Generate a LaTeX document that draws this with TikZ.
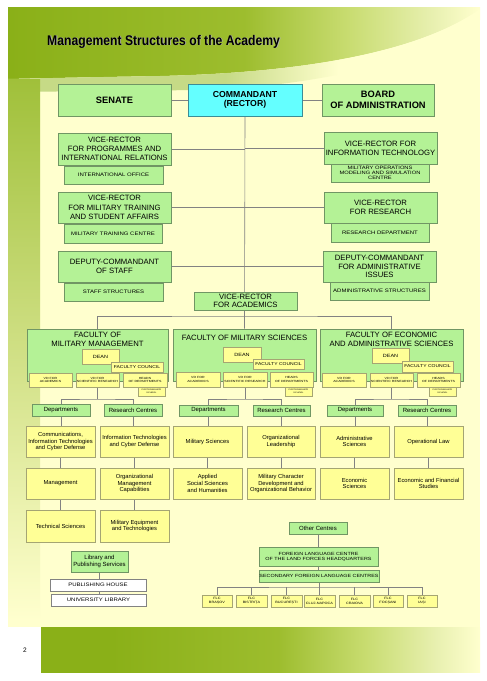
\documentclass[tikz,border=0pt]{standalone}
\usepackage{fontspec}
\usepackage{graphicx}
\setmainfont{Liberation Sans}
\newfontfamily\widef[FakeStretch=1.2]{Liberation Sans}
\usetikzlibrary{shadows}
\definecolor{paleY}{RGB}{255,255,206}
\definecolor{olive}{RGB}{138,176,24}
\definecolor{oliveB}{RGB}{157,189,46}
\definecolor{oliveC}{RGB}{200,220,112}
\definecolor{oliveD}{RGB}{232,240,176}
\definecolor{bandC}{RGB}{198,218,134}
\definecolor{stripC}{RGB}{160,192,58}
\definecolor{gfill}{RGB}{180,242,150}
\definecolor{gdraw}{RGB}{112,150,100}
\definecolor{yfill}{RGB}{255,255,150}
\definecolor{ydraw}{RGB}{165,165,115}
\definecolor{cfill}{RGB}{100,255,255}
\definecolor{cdraw}{RGB}{60,140,150}
\definecolor{lgray}{RGB}{130,130,130}
\pgfdeclarelayer{pagebg}
\pgfdeclarelayer{lines}
\pgfsetlayers{pagebg,lines,main}
\pgfdeclarehorizontalshading{hdrsh}{100bp}{color(0bp)=(olive); color(25bp)=(olive); color(50bp)=(oliveB); color(61bp)=(oliveC); color(70bp)=(oliveD); color(75bp)=(paleY); color(100bp)=(paleY)}
\pgfdeclarehorizontalshading{bandsh}{100bp}{color(0bp)=(bandC); color(25bp)=(bandC); color(48bp)=(bandC); color(60bp)=(paleY); color(100bp)=(paleY)}
\pgfdeclarehorizontalshading{botsh}{100bp}{color(0bp)=(olive); color(25bp)=(olive); color(33bp)=(olive); color(52bp)=(oliveB); color(62bp)=(oliveC); color(70bp)=(oliveD); color(75bp)=(paleY); color(100bp)=(paleY)}
\newcommand\bx[7]{%
  \pgfmathsetmacro\bxcx{(#3+#5)/2}\pgfmathsetmacro\bxcy{(#4+#6)/2}%
  \pgfmathsetmacro\bxw{#5-#3}\pgfmathsetmacro\bxh{#6-#4}%
  \node[#1,minimum width=\bxw pt,minimum height=\bxh pt] (#2) at (\bxcx,\bxcy) {#7};}
\begin{document}
\begin{tikzpicture}[x=1pt,y=-1pt,
  box/.style={draw,line width=0.6pt,inner sep=0pt,align=center,text=black},
  gb/.style={box,fill=gfill,draw=gdraw},
  yb/.style={box,fill=yfill,draw=ydraw},
  wb/.style={box,fill=white,draw=lgray},
  cb/.style={box,fill=cfill,draw=cdraw,drop shadow={shadow xshift=1.2pt,shadow yshift=-1.2pt,opacity=0.35}},
  ln/.style={draw=lgray,line width=0.6pt},
  fbig/.style={font=\fontsize{9.3}{10.7}\selectfont\bfseries},
  fcom/.style={font=\fontsize{8.7}{9.3}\selectfont\bfseries},
  fvr/.style={font=\fontsize{7.7}{9.2}\selectfont},
  fvrb/.style={font=\fontsize{7.7}{8.5}\selectfont},
  fsm/.style={font=\widef\fontsize{5}{5.6}\selectfont},
  fsm3/.style={font=\widef\fontsize{4.8}{5.3}\selectfont},
  ffac/.style={font=\fontsize{7.7}{9}\selectfont},
  fdean/.style={font=\widef\fontsize{4.6}{5}\selectfont},
  fcou/.style={font=\widef\fontsize{4.2}{5}\selectfont},
  fvd/.style={font=\widef\fontsize{3}{3.6}\selectfont},
  fpg/.style={font=\widef\fontsize{2}{2.4}\selectfont},
  fdep/.style={font=\fontsize{6}{7}\selectfont},
  flow/.style={font=\fontsize{5.8}{6.7}\selectfont},
  fhq/.style={font=\widef\fontsize{4.5}{5.2}\selectfont},
  fflc/.style={font=\widef\fontsize{3.2}{3.8}\selectfont}]
\useasboundingbox (0,0) rectangle (487,681);
\begin{pgfonlayer}{pagebg}
  \fill[white] (0,0) rectangle (487,681);
  \fill[paleY] (8,7) rectangle (480,627);
  \shade[shading=hdrsh] (8,7) -- (480,7) -- (480,9) .. controls (430,45) and (330,72) .. (160,76) .. controls (100,77) and (50,78) .. (8,79) -- cycle;
  \shade[shading=bandsh] (8,79) .. controls (50,78) and (100,77) .. (160,76) .. controls (330,72) and (430,45) .. (480,9) -- (480,20) .. controls (440,55) and (330,86) .. (200,90) -- (8,92) -- cycle;
  \shade[top color=stripC, bottom color=paleY] (8,79) rectangle (40,620);
  \shade[shading=botsh] (41,627) rectangle (480,672);
\end{pgfonlayer}
\node[anchor=base west,text=black!30,inner sep=0pt] (titlesh) at (47.8,45.8) {\fontsize{14}{16}\selectfont\bfseries\scalebox{0.87}[1]{Management Structures of the Academy}};
\node[anchor=base west,text=black,inner sep=0pt] (title) at (47,45) {\fontsize{14}{16}\selectfont\bfseries\scalebox{0.87}[1]{Management Structures of the Academy}};
\node (pgno) at (25,650) {\fontsize{6.5}{7}\selectfont 2};
% top row
\bx{gb,fbig}{senate}{58}{84}{171}{116}{SENATE}
\bx{cb,fcom}{comm}{188}{84}{302}{116}{COMMANDANT\\(RECTOR)}
\bx{gb,fbig}{board}{322}{84}{434}{116}{BOARD\\OF ADMINISTRATION}
% vice-rectors
\bx{gb,fvr}{vrp}{58}{133}{171}{165}{VICE-RECTOR\\FOR PROGRAMMES AND\\INTERNATIONAL RELATIONS}
\bx{gb,fsm}{io}{64}{166}{163}{184}{INTERNATIONAL OFFICE}
\bx{gb,fvr}{vrit}{324}{132}{437}{164}{VICE-RECTOR FOR\\INFORMATION TECHNOLOGY}
\bx{gb,fsm3}{mom}{331}{164}{429}{182}{MILITARY OPERATIONS\\MODELING AND SIMULATION\\CENTRE}
\bx{gb,fvr}{vrmt}{58}{192}{171}{223}{VICE-RECTOR\\FOR MILITARY TRAINING\\AND STUDENT AFFAIRS}
\bx{gb,fsm}{mtc}{64}{224}{162}{243}{MILITARY TRAINING CENTRE}
\bx{gb,fvr}{vrr}{324}{192}{437}{223}{VICE-RECTOR\\FOR RESEARCH}
\bx{gb,fsm}{rd}{331}{223}{429}{242}{RESEARCH DEPARTMENT}
\bx{gb,fvr}{dcs}{58}{251}{171}{282}{DEPUTY-COMMANDANT\\OF STAFF}
\bx{gb,fsm}{ss}{64}{283}{163}{301}{STAFF STRUCTURES}
\bx{gb,fvrb}{dca}{323}{251}{436}{282}{DEPUTY-COMMANDANT\\FOR ADMINISTRATIVE\\ISSUES}
\bx{gb,fsm}{as}{330}{282}{429}{300}{ADMINISTRATIVE STRUCTURES}
\bx{gb,fvrb}{vra}{194}{292}{297}{310}{VICE-RECTOR\\FOR ACADEMICS}
% faculty 1
\bx{gb}{fmm}{27}{329}{168}{381}{}
\node[ffac,align=center,inner sep=0pt] (fmmt) at (97.5,339.5) {FACULTY OF\\MILITARY MANAGEMENT};
\bx{yb,fdean}{dean1}{82}{349}{119}{364}{DEAN}
\bx{yb,fcou}{fc1}{111}{362}{163}{372}{FACULTY COUNCIL}
\bx{yb,fvd}{vda1}{29}{373}{72}{387}{VD FOR\\ACADEMICS}
\bx{yb,fvd}{vdr1}{76}{373}{119}{387}{VD FOR\\SCIENTIFIC RESEARCH}
\bx{yb,fvd}{hd1}{123}{373}{167}{387}{HEADS\\OF DEPARTMENTS}
\bx{yb,fpg}{pg1}{138}{387}{165}{396}{POSTGRADUATE\\SCHOOL}
\bx{gb,fdep}{dep1}{32}{404}{90}{416}{Departments}
\bx{gb,fdep}{rc1}{104}{404}{162}{416}{Research Centres}
\bx{yb,flow}{d1a}{26}{426}{95}{457}{Communications,\\Information Technologies\\and Cyber Defense}
\bx{yb,flow}{d1b}{26}{468}{95}{499}{Management}
\bx{yb,flow}{d1c}{26}{510}{95}{542}{Technical Sciences}
\bx{yb,flow}{r1a}{100}{426}{169}{457}{Information Technologies\\and Cyber Defense}
\bx{yb,flow}{r1b}{100}{468}{169}{499}{Organizational\\Management\\Capabilities}
\bx{yb,flow}{r1c}{100}{510}{169}{542}{Military Equipment\\and Technologies}
% faculty 2
\bx{gb}{fms}{173}{329}{316}{381}{}
\node[ffac,align=center,inner sep=0pt] (fmst) at (244.5,338) {FACULTY OF MILITARY SCIENCES};
\bx{yb,fdean}{dean2}{223}{347}{261}{362}{DEAN}
\bx{yb,fcou}{fc2}{253}{359}{304}{369}{FACULTY COUNCIL}
\bx{yb,fvd}{vda2}{176}{372}{220}{387}{VD FOR\\ACADEMICS}
\bx{yb,fvd}{vdr2}{223}{372}{267}{387}{VD FOR\\SCIENTIFIC RESEARCH}
\bx{yb,fvd}{hd2}{270}{372}{313}{387}{HEADS\\OF DEPARTMENTS}
\bx{yb,fpg}{pg2}{285}{387}{312}{396}{POSTGRADUATE\\SCHOOL}
\bx{gb,fdep}{dep2}{179}{405}{238}{416}{Departments}
\bx{gb,fdep}{rc2}{253}{405}{310}{416}{Research Centres}
\bx{yb,flow}{d2a}{173}{426}{242}{457}{Military Sciences}
\bx{yb,flow}{d2b}{173}{468}{242}{499}{Applied\\Social Sciences\\and Humanities}
\bx{yb,flow}{r2a}{247}{426}{315}{457}{Organizational\\Leadership}
\bx{yb,flow}{r2b}{247}{468}{315}{499}{Military Character\\Development and\\Organizational Behavior}
% faculty 3
\bx{gb}{fea}{320}{329}{463}{381}{}
\node[ffac,align=center,inner sep=0pt] (feat) at (391.5,339.5) {FACULTY OF ECONOMIC\\AND ADMINISTRATIVE SCIENCES};
\bx{yb,fdean}{dean3}{372}{348}{409}{363}{DEAN}
\bx{yb,fcou}{fc3}{402}{361}{453}{372}{FACULTY COUNCIL}
\bx{yb,fvd}{vda3}{322}{373}{366}{387}{VD FOR\\ACADEMICS}
\bx{yb,fvd}{vdr3}{370}{373}{413}{387}{VD FOR\\SCIENTIFIC RESEARCH}
\bx{yb,fvd}{hd3}{417}{373}{460}{387}{HEADS\\OF DEPARTMENTS}
\bx{yb,fpg}{pg3}{429}{387}{456}{396}{POSTGRADUATE\\SCHOOL}
\bx{gb,fdep}{dep3}{327}{405}{383}{416}{Departments}
\bx{gb,fdep}{rc3}{398}{405}{456}{416}{Research Centres}
\bx{yb,flow}{d3a}{320}{426}{389}{457}{Administrative\\Sciences}
\bx{yb,flow}{d3b}{320}{468}{389}{499}{Economic\\Sciences}
\bx{yb,flow}{r3a}{394}{426}{463}{457}{Operational Law}
\bx{yb,flow}{r3b}{394}{468}{463}{499}{Economic and Financial\\Studies}
% library
\bx{gb,fdep}{lib}{71}{551}{128}{572}{Library and\\Publishing Services}
\bx{wb,fsm}{ph}{50}{579}{146}{591}{PUBLISHING HOUSE}
\bx{wb,fsm}{ul}{51}{594}{146}{606}{UNIVERSITY LIBRARY}
% other centres
\bx{gb,fdep}{oc}{289}{522}{347}{534}{Other Centres}
\bx{gb,fhq}{flchq}{259}{547}{378}{566}{FOREIGN LANGUAGE CENTRE\\OF THE LAND FORCES HEADQUARTERS}
\bx{gb,fhq}{sflc}{259}{570}{379}{582}{SECONDARY FOREIGN LANGUAGE CENTRES}
\bx{yb,fflc}{f1}{202}{595}{232}{607}{FLC\\BRAȘOV}
\bx{yb,fflc}{f2}{236}{595}{267}{607}{FLC\\BISTRIȚA}
\bx{yb,fflc}{f3}{271}{595}{302}{607}{FLC\\BUCUREȘTI}
\bx{yb,fflc}{f4}{304}{595}{335}{607}{FLC\\CLUJ-NAPOCA}
\bx{yb,fflc}{f5}{339}{595}{370}{607}{FLC\\CRAIOVA}
\bx{yb,fflc}{f6}{373}{595}{403}{607}{FLC\\FOCȘANI}
\bx{yb,fflc}{f7}{407}{595}{437}{607}{FLC\\IAȘI}
% connectors
\coordinate (fbus) at (245,316);
\coordinate (b1) at (97.5,399);
\coordinate (b2) at (245,399);
\coordinate (b3) at (391.5,399);
\coordinate (fb) at (319,587);
\begin{pgfonlayer}{lines}
  \draw[ln] (senate.east) -- (comm.west);
  \draw[ln] (comm.east) -- (board.west);
  \draw[ln] (comm.south) -- (fms.north);
  \draw[ln] (vrp.east) -- (vrp.east -| comm.south);
  \draw[ln] (vrmt.east) -- (vrmt.east -| comm.south);
  \draw[ln] (dcs.east) -- (dcs.east -| comm.south);
  \draw[ln] (vrit.west) -- (vrit.west -| comm.south);
  \draw[ln] (vrr.west) -- (vrr.west -| comm.south);
  \draw[ln] (dca.west) -- (dca.west -| comm.south);
  \draw[ln] (fmm.north) |- (fbus) -| (fea.north);
  \draw[ln] (vdr1.south) -- (b1);
  \draw[ln] (dep1.north) |- (b1) -| (rc1.north);
  \draw[ln] (vdr2.south) -- (b2);
  \draw[ln] (dep2.north) |- (b2) -| (rc2.north);
  \draw[ln] (vdr3.south) -- (b3);
  \draw[ln] (dep3.north) |- (b3) -| (rc3.north);
  \draw[ln] (dep1.south) -- (dep1.south |- d1a.north);
  \draw[ln] (d1a.south) -- (d1b.north);
  \draw[ln] (d1b.south) -- (d1c.north);
  \draw[ln] (rc1.south) -- (rc1.south |- r1a.north);
  \draw[ln] (r1a.south) -- (r1b.north);
  \draw[ln] (r1b.south) -- (r1c.north);
  \draw[ln] (dep2.south) -- (dep2.south |- d2a.north);
  \draw[ln] (d2a.south) -- (d2b.north);
  \draw[ln] (rc2.south) -- (rc2.south |- r2a.north);
  \draw[ln] (r2a.south) -- (r2b.north);
  \draw[ln] (dep3.south) -- (dep3.south |- d3a.north);
  \draw[ln] (d3a.south) -- (d3b.north);
  \draw[ln] (rc3.south) -- (rc3.south |- r3a.north);
  \draw[ln] (r3a.south) -- (r3b.north);
  \draw[ln] (lib.south) -- (lib.south |- ul.north);
  \draw[ln] (oc.south) -- (oc.south |- flchq.north);
  \draw[ln] (flchq.south) -- (flchq.south |- sflc.north);
  \draw[ln] (sflc.south) -- (sflc.south |- fb);
  \draw[ln] (f1.north) |- (fb) -| (f7.north);
  \draw[ln] (f2.north) -- (f2.north |- fb);
  \draw[ln] (f3.north) -- (f3.north |- fb);
  \draw[ln] (f4.north) -- (f4.north |- fb);
  \draw[ln] (f5.north) -- (f5.north |- fb);
  \draw[ln] (f6.north) -- (f6.north |- fb);
\end{pgfonlayer}
\end{tikzpicture}
\end{document}
